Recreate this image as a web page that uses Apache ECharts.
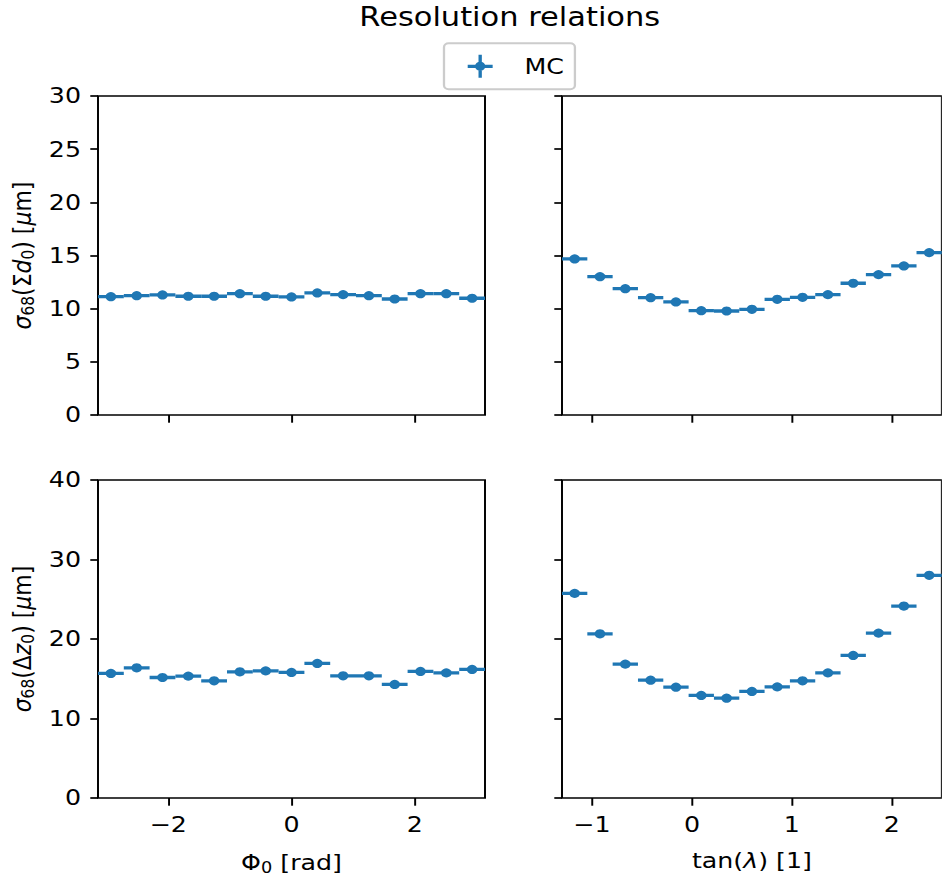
<!DOCTYPE html>
<html>
<head>
<meta charset="utf-8">
<script src="https://cdn.jsdelivr.net/npm/echarts@6/dist/echarts.min.js"></script>
<style>
  html, body { margin: 0; padding: 0; background: #ffffff; overflow: hidden; }
  #chart { transform-origin: 0 0; }
</style>
</head>
<body>
<div id="chart"></div>
<script>
// Bin centres of the two projections (15 equal bins each)
const phiBinCenters = [-2.9322, -2.5133, -2.0944, -1.6755, -1.2566, -0.8378, -0.4189, 0.0,
                       0.4189, 0.8378, 1.2566, 1.6755, 2.0944, 2.5133, 2.9322];
const phiBinHalfWidth = 0.2094;
const tanLambdaBinCenters = [-1.1733, -0.9200, -0.6667, -0.4133, -0.1600, 0.0933, 0.3467, 0.6000,
                             0.8533, 1.1067, 1.3600, 1.6133, 1.8667, 2.1200, 2.3733];
const tanLambdaBinHalfWidth = 0.1267;

// sigma68 resolutions in micrometres
const d0ResVsPhi = [11.13, 11.22, 11.29, 11.17, 11.17, 11.41, 11.17, 11.10,
                    11.48, 11.32, 11.22, 10.91, 11.41, 11.41, 10.98];
const d0ResVsTanLambda = [14.68, 13.01, 11.88, 11.03, 10.63, 9.81, 9.78, 9.94,
                          10.88, 11.07, 11.32, 12.39, 13.20, 14.02, 15.27];
const z0ResVsPhi = [15.67, 16.37, 15.16, 15.33, 14.74, 15.87, 15.99, 15.79,
                    16.93, 15.37, 15.37, 14.28, 15.92, 15.74, 16.17];
const z0ResVsTanLambda = [25.74, 20.65, 16.84, 14.82, 13.94, 12.90, 12.56, 13.40,
                          13.98, 14.74, 15.74, 17.93, 20.74, 24.14, 28.01];

// Axis ticks
const phiTicks = [-2, 0, 2];
const tanLambdaTicks = [-1, 0, 1, 2];
const d0Ticks = { min: 0, max: 30, step: 5 };
const z0Ticks = { min: 0, max: 40, step: 10 };

// The figure is drawn in a narrower frame and widened horizontally
const SX = 1.15;
const W = 942, H = 882;
const el = document.getElementById('chart');
el.style.width = (W / SX) + 'px';
el.style.height = H + 'px';
el.style.transform = 'scaleX(' + SX + ')';
const px = v => v / SX;

const BLUE = '#1f77b4';
const FONT = 'DejaVu Sans';
const TICK_FS = 22;

const minus = v => String(v).replace('-', '\u2212');

const rich = {
  n: { fontFamily: FONT, fontSize: TICK_FS, color: '#000' },
  it: { fontFamily: FONT, fontSize: TICK_FS, fontStyle: 'italic', color: '#000' },
  sub: { fontFamily: FONT, fontSize: 15.4, color: '#000', padding: [10, 0, 0, 0] }
};

const gridLeftX = [px(98), px(562)];
const gridW = px(387);
const gridTopY = [96, 480];
const gridH = [319, 318];

const grids = [];
for (let r = 0; r < 2; r++) {
  for (let c = 0; c < 2; c++) {
    grids.push({
      left: gridLeftX[c], top: gridTopY[r], width: gridW, height: gridH[r],
      show: true, borderColor: '#000', borderWidth: 1.7, backgroundColor: 'transparent'
    });
  }
}

function xAxisFor(gridIndex, col, row) {
  const isPhi = col === 0;
  return {
    type: 'value', gridIndex,
    min: isPhi ? -Math.PI : -1.3,
    max: isPhi ? Math.PI : 2.5,
    splitLine: { show: false },
    axisLine: { show: false, onZero: false },
    axisTick: { show: true, customValues: isPhi ? phiTicks : tanLambdaTicks, length: 7.7,
                lineStyle: { color: '#000', width: 1.7 } },
    axisLabel: { show: row === 1, customValues: isPhi ? phiTicks : tanLambdaTicks,
                 formatter: minus, margin: 16, color: '#000', fontFamily: FONT, fontSize: TICK_FS },
    name: row === 1 ? (isPhi ? '{n|\u03A6}{sub|0}{n| [rad]}' : '{n|tan(}{it|\u03BB}{n|) [1]}') : '',
    nameLocation: 'middle', nameGap: 52,
    nameTextStyle: { rich }
  };
}

function yAxisFor(gridIndex, col, row) {
  const t = row === 0 ? d0Ticks : z0Ticks;
  return {
    type: 'value', gridIndex,
    min: t.min, max: t.max, interval: t.step,
    splitLine: { show: false },
    axisLine: { show: false, onZero: false },
    axisTick: { show: true, length: px(7.7), lineStyle: { color: '#000', width: 1.7 } },
    axisLabel: { show: col === 0, margin: px(17), color: '#000', fontFamily: FONT, fontSize: TICK_FS },
    name: col === 0 ? (row === 0
      ? '{it|\u03C3}{sub|68}{n|(\u03A3}{it|d}{sub|0}{n|) [}{it|\u03BC}{n|m]}'
      : '{it|\u03C3}{sub|68}{n|(\u0394}{it|z}{sub|0}{n|) [}{it|\u03BC}{n|m]}') : '',
    nameLocation: 'middle', nameGap: px(61),
    nameTextStyle: { rich }
  };
}

const xAxes = [], yAxes = [];
for (let r = 0; r < 2; r++) {
  for (let c = 0; c < 2; c++) {
    const gi = r * 2 + c;
    xAxes.push(xAxisFor(gi, c, r));
    yAxes.push(yAxisFor(gi, c, r));
  }
}

function binned(centers, halfWidth, values) {
  return centers.map((x, i) => [x, values[i], halfWidth]);
}

function renderErrorBar(params, api) {
  const x = api.value(0), y = api.value(1), hw = api.value(2);
  const a = api.coord([x - hw, y]);
  const b = api.coord([x + hw, y]);
  const c = api.coord([x, y]);
  return {
    type: 'group',
    children: [
      { type: 'line', shape: { x1: a[0], y1: a[1], x2: b[0], y2: b[1] },
        style: { stroke: BLUE, lineWidth: 3.3, lineCap: 'butt' } },
      { type: 'circle', shape: { cx: c[0], cy: c[1], r: 4.6 }, style: { fill: BLUE } }
    ]
  };
}

const panels = [
  [phiBinCenters, phiBinHalfWidth, d0ResVsPhi],
  [tanLambdaBinCenters, tanLambdaBinHalfWidth, d0ResVsTanLambda],
  [phiBinCenters, phiBinHalfWidth, z0ResVsPhi],
  [tanLambdaBinCenters, tanLambdaBinHalfWidth, z0ResVsTanLambda]
];

const series = panels.map((p, i) => ({
  name: 'MC', type: 'custom', xAxisIndex: i, yAxisIndex: i,
  clip: true, color: BLUE, itemStyle: { color: BLUE },
  encode: { x: 0, y: 1 },
  renderItem: renderErrorBar,
  data: binned(p[0], p[1], p[2])
}));

// Errorbar legend handle: horizontal bar, vertical bar and a dot
const handlePath = 'path://M0,98.5 L217,98.5 L217,131.5 L0,131.5 Z ' +
  'M94,0 L123,0 L123,230 L94,230 Z ' +
  'M153.5,115 A45,45 0 1 1 63.5,115 A45,45 0 1 1 153.5,115 Z';

const chart = echarts.init(el, null, { renderer: 'svg' });
chart.setOption({
  animation: false,
  backgroundColor: '#ffffff',
  title: {
    text: 'Resolution relations',
    left: px(504), top: -2, textAlign: 'center',
    textStyle: { fontFamily: FONT, fontSize: 26.5, fontWeight: 'normal', color: '#000' }
  },
  legend: {
    data: [{ name: 'MC', icon: handlePath }],
    left: px(444), top: 43.3,
    orient: 'horizontal',
    itemWidth: px(25), itemHeight: 23,
    padding: [11.5, px(11), 11.5, px(23.7)],
    borderColor: '#cccccc', borderWidth: 2, borderRadius: 4,
    backgroundColor: '#ffffff',
    textStyle: { fontFamily: FONT, fontSize: 22, color: '#000', padding: [0, 0, 0, px(26)] }
  },
  grid: grids,
  xAxis: xAxes,
  yAxis: yAxes,
  series
});
</script>
</body>
</html>
